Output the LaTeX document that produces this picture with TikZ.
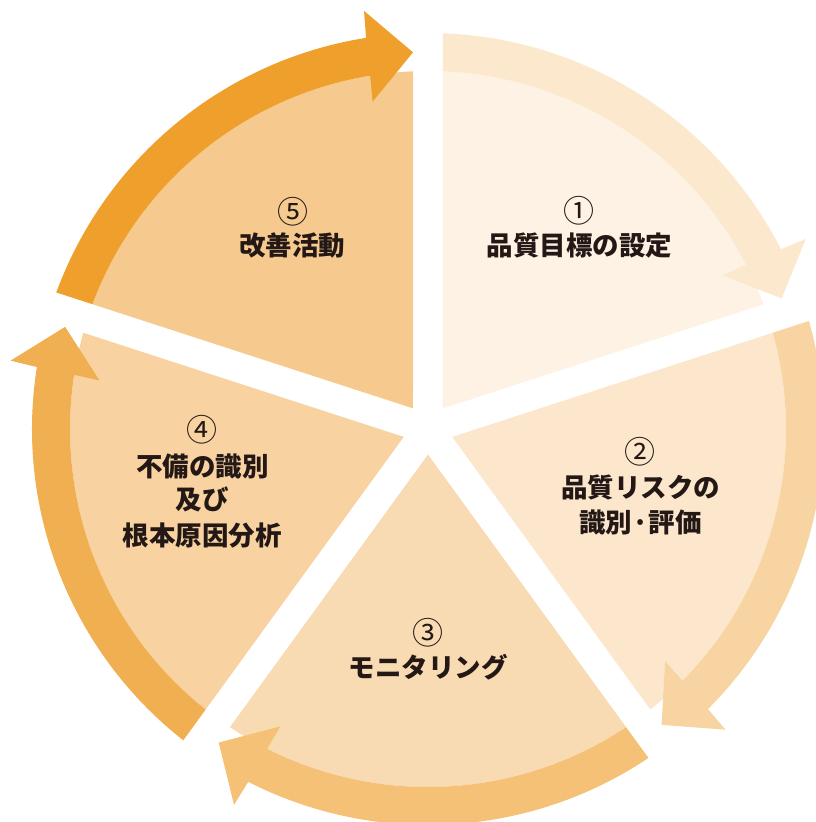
\documentclass[tikz,border=0pt]{standalone}
\usepackage{fontspec}
\newfontfamily\jpfont{Noto Sans CJK JP}
\definecolor{fa}{HTML}{FDF2E3}
\definecolor{ba}{HTML}{FBE8CD}
\definecolor{fb}{HTML}{FCE7CC}
\definecolor{bb}{HTML}{F8D4A2}
\definecolor{fc}{HTML}{F9DBB3}
\definecolor{bc}{HTML}{F5C177}
\definecolor{fd}{HTML}{F8D3A1}
\definecolor{bd}{HTML}{F0AF50}
\definecolor{fe}{HTML}{F6CA8E}
\definecolor{be}{HTML}{EF9F2B}
\definecolor{txt}{HTML}{231815}
\newcommand\drawsector[3]{%
  \pgfmathsetmacro\sa{#1}%
  \pgfmathsetmacro\sb{#1-72}%
  \pgfmathsetmacro\sm{#1-36}%
  \fill[#2] (\sm:25.52) -- ({\sa-2.40}:358)
    arc[start angle={\sa-2.40}, end angle={\sb+2.40}, radius=358] -- cycle;
  \fill[#3] ({\sa-2.40}:358) -- ({\sa-2.17}:396)
    arc[start angle={\sa-2.17}, end angle={\sb+9.0}, radius=396]
    -- ({\sb+8.7}:423) -- ({\sb+2.28}:377) -- ({\sb+9.6}:332)
    -- ({\sb+9.3}:358)
    arc[start angle={\sb+9.3}, end angle={\sa-2.40}, radius=358] -- cycle;
}
\begin{document}
\begin{tikzpicture}[x=1pt,y=1pt,
  lab/.style={font=\jpfont\bfseries\fontsize{26.5}{30}\selectfont, text=txt, anchor=base, inner sep=0pt},
  num/.style={font=\jpfont\fontsize{31}{34}\selectfont, text=txt, anchor=base, inner sep=0pt}]
\useasboundingbox (-428,-393) rectangle (388,429);
\clip (-428,-393) rectangle (388,429);
\drawsector{90}{fa}{ba}
\drawsector{18}{fb}{bb}
\drawsector{-54}{fc}{bc}
\drawsector{-126}{fd}{bd}
\drawsector{162}{fe}{be}
% labels
\node[num] (n1) at (151,206.5) {①};
\node[lab] (t1) at (151.5,173) {品質目標の設定};
\node[num] (n2) at (212,-34.5) {②};
\node[lab] (t2a) at (212.5,-68) {品質リスクの};
\node[lab] (t2b) at (212.5,-103) {識別·評価};
\node[num] (n3) at (0,-215.5) {③};
\node[lab] (t3) at (0.5,-248) {モニタリング};
\node[num] (n4) at (-226,-12.5) {④};
\node[lab] (t4a) at (-225.5,-47) {不備の識別};
\node[lab] (t4b) at (-225.5,-80) {及び};
\node[lab] (t4c) at (-225.5,-116) {根本原因分析};
\node[num] (n5) at (-135,205.5) {⑤};
\node[lab] (t5) at (-135.5,173) {改善活動};
\end{tikzpicture}
\end{document}
